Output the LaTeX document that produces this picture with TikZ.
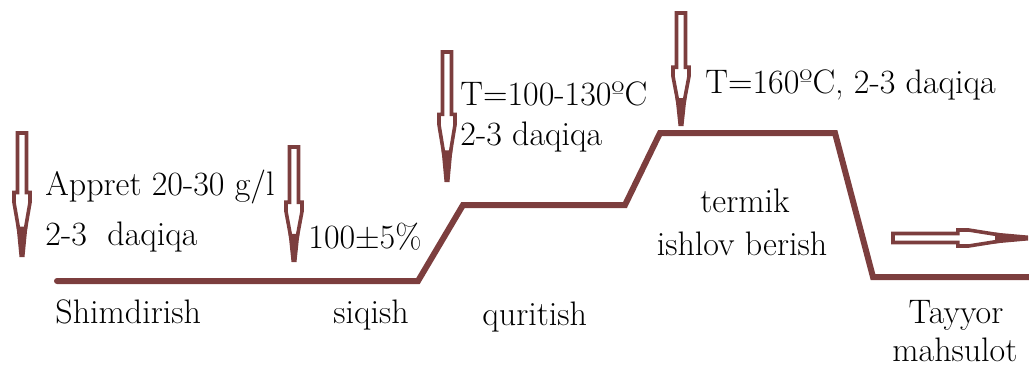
\documentclass[tikz,border=0pt]{standalone}
\usepackage{fontspec}
\definecolor{brn}{RGB}{124,62,62}
\tikzset{
  lbl/.style={anchor=base west, inner sep=0pt, font=\fontsize{17}{20}\selectfont},
  clbl/.style={lbl, anchor=base},
  curve/.style={draw=brn, line width=3pt, line cap=round},
  pics/feedarrow/.style={code={
    \fill[brn] (-5.5,{0.75*#1}) -- (-2.5,#1) -- (2.5,#1) -- (5.5,{0.75*#1}) -- cycle;
    \draw[brn, line width=1.8pt, fill=white] (-4.5,0) -- (4.5,0) -- (4.5,{0.48*#1})
      -- (8,{0.48*#1}) -- (8,{0.56*#1}) -- (3.5,{0.77*#1}) -- (-3.5,{0.77*#1})
      -- (-8,{0.56*#1}) -- (-8,{0.48*#1}) -- (-4.5,{0.48*#1}) -- cycle;
  }}
}
\begin{document}
\begin{tikzpicture}[x=0.5pt, y=-0.5pt]
    \useasboundingbox (0,0) rectangle (1029,365);

    % process curve
    \coordinate (s0) at (57,281);
    \coordinate (s1) at (418,281);
    \coordinate (q0) at (463,205);
    \coordinate (q1) at (625,205);
    \coordinate (t0) at (660,133);
    \coordinate (t1) at (835,133);
    \coordinate (p0) at (873,277);
    \coordinate (p1) at (1032,277);
    \draw[curve] (s0) -- (s1) -- (q0) -- (q1) -- (t0) -- (t1) -- (p0) -- (p1);

    % feed arrows
    \pic at (22,133) {feedarrow=124};
    \pic at (294,147) {feedarrow=115};
    \pic at (447,52) {feedarrow=130};
    \pic at (681,13) {feedarrow=113};
    \pic[rotate=90] at (893,238) {feedarrow=135};

    % conditions
    \node[lbl] (appret) at (45,195) {Appret 20-30 g/l};
    \node[lbl] (time1) at (45,245) {2-3\ \ daqiqa};
    \node[lbl] (press) at (308,248) {100±5\%};
    \node[lbl] (temp1) at (460,105) {T=100-130ºC};
    \node[lbl] (time2) at (460,145) {2-3 daqiqa};
    \node[lbl] (temp2) at (705,93) {T=160ºC, 2-3 daqiqa};

    % stages
    \node[clbl] (termik) at (745,212) {termik};
    \node[clbl] (ishlov) at (742,255) {ishlov berish};
    \node[lbl] (shim) at (55,323) {Shimdirish};
    \node[lbl] (siq) at (333,323) {siqish};
    \node[lbl] (qur) at (482,325) {quritish};
    \node[clbl] (tayyor) at (956,323) {Tayyor};
    \node[lbl] (mahsul) at (892,361) {mahsulot};
\end{tikzpicture}
\end{document}
